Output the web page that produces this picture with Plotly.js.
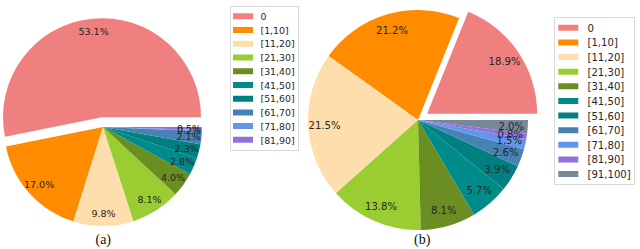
<!DOCTYPE html>
<html><head><meta charset="utf-8">
<script src="https://cdn.plot.ly/plotly-3.0.1.min.js"></script>
<style>
html,body{margin:0;padding:0;background:#fff;overflow:hidden;width:640px;height:249px;}
#chart{position:absolute;left:-20px;top:-10px;width:1320px;height:518px;transform:scale(0.5);transform-origin:0 0;}
</style>
</head><body><div id="chart"></div>
<script>
// ---- data ----
const labelsA = ['0','[1,10]','[11,20]','[21,30]','[31,40]','[41,50]','[51,60]','[61,70]','[71,80]','[81,90]'];
const valuesA = [53.1, 17.0, 9.8, 8.1, 4.0, 2.8, 2.3, 2.1, 0.2, 0.5];
const labelsB = ['0','[1,10]','[11,20]','[21,30]','[31,40]','[41,50]','[51,60]','[61,70]','[71,80]','[81,90]','[91,100]'];
const valuesB = [18.9, 21.2, 21.5, 13.8, 8.1, 5.7, 3.9, 2.6, 1.5, 0.8, 2.0];
const sliceColors = ['#F08080','#FF8C00','#FFDEAD','#9ACD32','#6B8E23','#008B8B','#008080','#4682B4','#6495ED','#9370DB','#778899'];
const panelLabels = ['(a)','(b)'];

// ---- layout helpers (page is drawn at 2x and scaled down) ----
const OX = 20, OY = 10, S = 2, W = (640 + OX) * S, H = (249 + OY) * S;
const px = X => (X + OX) * S / W;
const py = Y => 1 - (Y + OY) * S / H;
function domainFor(c) { const h = c.r * (1 + c.pull); return {x: [px(c.cx - h), px(c.cx + h)], y: [py(c.cy + h), py(c.cy - h)]}; }

const pieA = {cx: 103, cy: 127, r: 99, pull: 0.1, pct: 0.87, font: 9.5};
const pieB = {cx: 418, cy: 120, r: 110, pull: 0.1, pct: 0.85, font: 10.1};
const FONT = 'DejaVu Sans, Verdana, sans-serif';
const TXT = '#262626';

// first slice starts at 3 o'clock and runs counterclockwise (matplotlib default)
function startRotation(values) {
  const total = values.reduce((a, b) => a + b, 0);
  return 90 - 360 * values[0] / total;
}

function pieTrace(labels, values, cfg, legendId, group) {
  return {
    type: 'pie', labels: labels, values: values,
    marker: {colors: sliceColors.slice(0, labels.length), line: {width: 0}},
    sort: false, direction: 'counterclockwise', rotation: startRotation(values),
    pull: values.map((v, i) => i === 0 ? cfg.pull : 0),
    textinfo: 'none', hoverinfo: 'none',
    domain: domainFor(cfg), legend: legendId, legendgroup: group
  };
}

const data = [pieTrace(labelsA, valuesA, pieA, 'legend', 'a'), pieTrace(labelsB, valuesB, pieB, 'legend2', 'b')];

const baseAnn = [
  {xref: 'paper', yref: 'paper', x: px(103), y: py(239), text: panelLabels[0], showarrow: false, xanchor: 'center', yanchor: 'middle', font: {family: 'Liberation Serif, Times New Roman, serif', size: 14 * S, color: '#111'}},
  {xref: 'paper', yref: 'paper', x: px(422), y: py(239), text: panelLabels[1], showarrow: false, xanchor: 'center', yanchor: 'middle', font: {family: 'Liberation Serif, Times New Roman, serif', size: 14 * S, color: '#111'}}
];

const layout = {
  width: W, height: H,
  margin: {l: 0, r: 0, t: 0, b: 0, autoexpand: false},
  paper_bgcolor: '#fff', plot_bgcolor: '#fff', showlegend: true,
  font: {family: FONT, color: TXT},
  legend: {x: px(230), y: py(6), xanchor: 'left', yanchor: 'top', font: {family: FONT, size: 9.4 * S, color: TXT},
    bgcolor: '#fff', bordercolor: '#d9d9d9', borderwidth: 2, itemwidth: 49, tracegroupgap: 0},
  legend2: {x: px(554), y: py(17), xanchor: 'left', yanchor: 'top', font: {family: FONT, size: 10.1 * S, color: TXT},
    bgcolor: '#fff', bordercolor: '#d9d9d9', borderwidth: 2, itemwidth: 55, tracegroupgap: 0},
  annotations: baseAnn
};

const gd = document.getElementById('chart');
Plotly.newPlot(gd, data, layout, {staticPlot: true, displayModeBar: false}).then(() => {
  const size = gd._fullLayout._size;
  const extra = [];
  [[pieA, valuesA], [pieB, valuesB]].forEach(([cfg, vals], k) => {
    const cd = gd.calcdata[k];
    const cd0 = cd[0];
    cd.forEach((pt, i) => {
      const ang = pt.midangle;
      const pull = i === 0 ? cfg.pull : 0;
      const d = cd0.r * (cfg.pct + pull);
      const X = cd0.cx + d * Math.sin(ang), Y = cd0.cy - d * Math.cos(ang);
      extra.push({xref: 'paper', yref: 'paper', x: (X - size.l) / size.w, y: 1 - (Y - size.t) / size.h,
        text: vals[i].toFixed(1) + '%', showarrow: false, xanchor: 'center', yanchor: 'middle',
        font: {family: FONT, size: cfg.font * S, color: TXT}});
    });
  });
  return Plotly.relayout(gd, {annotations: baseAnn.concat(extra)});
}).then(() => {
  [['legend', 24], ['legend2', 26.6]].forEach(([cls, cx]) => {
    gd.querySelectorAll('g.' + cls + ' path.legendpie').forEach(p => {
      p.setAttribute('d', 'M-20,-6H20V6H-20Z');
      p.setAttribute('transform', 'translate(' + cx + ',0)');
    });
  });
});
</script></body></html>
